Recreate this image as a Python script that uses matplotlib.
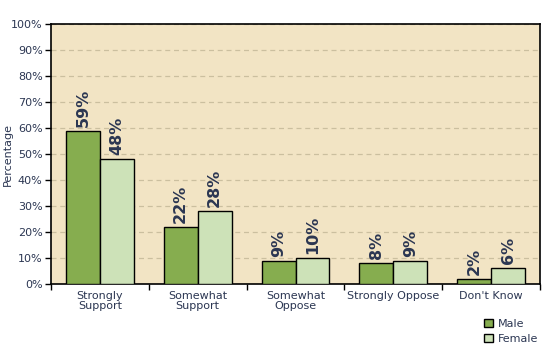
import matplotlib.pyplot as plt
import numpy as np

categories = ["Strongly\nSupport", "Somewhat\nSupport", "Somewhat\nOppose", "Strongly Oppose", "Don't Know"]
male = [59, 22, 9, 8, 2]
female = [48, 28, 10, 9, 6]

text_color = "#2b3652"
male_color = "#86ad4f"
female_color = "#cde2b8"
bg_color = "#f2e4c4"
grid_color = "#cbbf9f"

fig = plt.figure(figsize=(5.45, 3.52), dpi=100)
ax = fig.add_axes([51 / 545, 68 / 352, 489 / 545, 260 / 352])
ax.set_facecolor(bg_color)

x = np.arange(len(categories))
w = 0.347
b1 = ax.bar(x - w / 2, male, w, color=male_color, edgecolor="black", linewidth=1, label="Male", zorder=3)
b2 = ax.bar(x + w / 2, female, w, color=female_color, edgecolor="black", linewidth=1, label="Female", zorder=3)

for bars, vals in ((b1, male), (b2, female)):
    for bar, v in zip(bars, vals):
        ax.text(bar.get_x() + bar.get_width() / 2, v + 1.5, f"{v}%", rotation=90,
                ha="center", va="bottom", fontsize=11.5, fontweight="bold", color=text_color, zorder=4)

ax.set_xlim(-0.5, len(categories) - 0.5)
ax.set_ylim(0, 100)
ax.set_yticks(range(0, 101, 10))
ax.set_yticklabels([f"{t}%" for t in range(0, 101, 10)], fontsize=8, color=text_color)
ax.yaxis.grid(True, linestyle=(0, (4, 3)), color=grid_color, linewidth=0.9, zorder=0)

ax.set_xticks(x)
ax.set_xticklabels(categories, fontsize=8, color=text_color, linespacing=0.95)
ax.tick_params(axis="x", length=0, pad=5)
ax.set_xticks(np.arange(-0.5, len(categories)), minor=True)
ax.tick_params(axis="x", which="minor", length=4, width=1, direction="out")
ax.tick_params(axis="y", length=4, width=1, direction="out", pad=2)

for s in ax.spines.values():
    s.set_color("black")
    s.set_linewidth(1.2)

ax.set_ylabel("Percentage", fontsize=8, color=text_color)
ax.yaxis.set_label_coords(-38 / 489, 0.5)

fig.legend(handles=[b1, b2], labels=["Male", "Female"], loc="lower right",
           bbox_to_anchor=(548 / 545, -2 / 352), frameon=False, fontsize=8,
           labelcolor=text_color, handlelength=0.8, handleheight=0.8,
           handletextpad=0.4, labelspacing=0.45)

fig.savefig("out.png", dpi=100)
